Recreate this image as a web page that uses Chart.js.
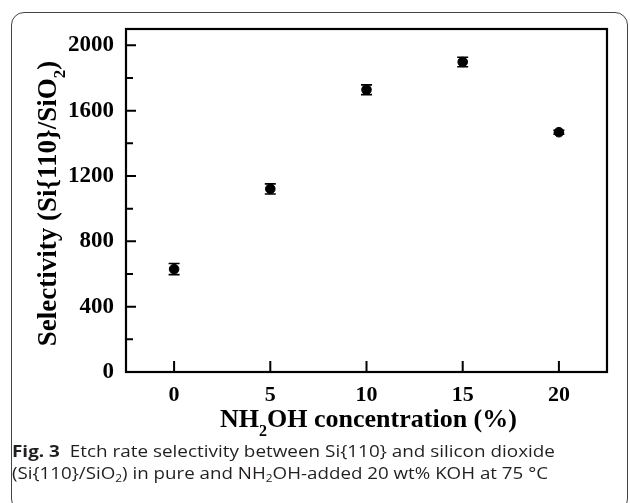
<!DOCTYPE html>
<html><head><meta charset="utf-8">
<script src="https://cdn.jsdelivr.net/npm/chart.js@4"></script>
<style>
html,body{margin:0;padding:0;background:#fff;}
#wrap{position:relative;width:630px;height:503px;overflow:hidden;background:#fff;}
#frame{position:absolute;left:11px;top:12px;width:617px;height:500px;border:1px solid #444;border-radius:13px;box-sizing:border-box;}
#c{position:absolute;left:0;top:0;}
.cap{position:absolute;left:12px;white-space:nowrap;font-family:"Open Sans",sans-serif;font-size:16.5px;color:#231f20;transform-origin:0 0;line-height:20px;}
.cap sub{font-size:10.5px;vertical-align:-3px;line-height:0;}
</style></head>
<body><div id="wrap">
<div id="frame"></div>
<canvas id="c" width="630" height="503"></canvas>
<div class="cap" id="cap1" style="top:441px;"><b>Fig. 3</b>&nbsp; Etch rate selectivity between Si{110} and silicon dioxide</div>
<div class="cap" id="cap2" style="top:463px;">(Si{110}/SiO<sub>2</sub>) in pure and NH<sub>2</sub>OH-added 20 wt% KOH at 75 °C</div>
</div>
<script>
const xValues = [0, 5, 10, 15, 20];
const selectivity = [630, 1121, 1728, 1898, 1468];
const errors = [34, 31, 30, 29, 12];
const xTickValues = [0, 5, 10, 15, 20];
const yTickValues = [0, 400, 800, 1200, 1600, 2000];
const yMinorTickValues = [200, 600, 1000, 1400, 1800];
const xTitleParts = [["NH", false], ["2", true], ["OH concentration (%)", false]];
const yTitleParts = [["Selectivity (Si{110}/SiO", false], ["2", true], [")", false]];

const SERIF = '"Liberation Serif","Times New Roman",serif';

function drawRich(ctx, parts, size, subSize, subDrop) {
  let w = 0;
  parts.forEach(([t, sub]) => { ctx.font = 'bold ' + (sub ? subSize : size) + 'px ' + SERIF; w += ctx.measureText(t).width; });
  let x = -w / 2;
  parts.forEach(([t, sub]) => {
    ctx.font = 'bold ' + (sub ? subSize : size) + 'px ' + SERIF;
    ctx.fillText(t, x, sub ? subDrop : 0);
    x += ctx.measureText(t).width;
  });
}

const framePlugin = {
  id: 'framePlugin',
  beforeDatasetsDraw(chart) {
    const ctx = chart.ctx, a = chart.chartArea;
    const xs = chart.scales.x, ys = chart.scales.y;
    ctx.save();
    ctx.strokeStyle = '#000';
    ctx.lineWidth = 1.6;
    xValues.forEach((xv, i) => {
      const px = xs.getPixelForValue(xv);
      const top = ys.getPixelForValue(selectivity[i] + errors[i]);
      const bot = ys.getPixelForValue(selectivity[i] - errors[i]);
      ctx.beginPath();
      ctx.moveTo(px, top); ctx.lineTo(px, bot);
      ctx.moveTo(px - 5.5, top); ctx.lineTo(px + 5.5, top);
      ctx.moveTo(px - 5.5, bot); ctx.lineTo(px + 5.5, bot);
      ctx.stroke();
    });
    ctx.lineWidth = 2;
    ctx.beginPath();
    xTickValues.forEach(v => { const p = xs.getPixelForValue(v); ctx.moveTo(p, a.bottom); ctx.lineTo(p, a.bottom - 11); });
    yTickValues.forEach(v => { const p = ys.getPixelForValue(v); ctx.moveTo(a.left, p); ctx.lineTo(a.left + 10, p); });
    yMinorTickValues.forEach(v => { const p = ys.getPixelForValue(v); ctx.moveTo(a.left, p); ctx.lineTo(a.left + 7, p); });
    ctx.stroke();
    ctx.lineWidth = 2.2;
    ctx.strokeRect(a.left, a.top, a.right - a.left, a.bottom - a.top);
    ctx.restore();
  },
  afterDraw(chart) {
    const ctx = chart.ctx, a = chart.chartArea;
    ctx.save();
    ctx.fillStyle = '#000';
    ctx.textBaseline = 'alphabetic';
    ctx.textAlign = 'left';
    ctx.save();
    ctx.translate((a.left + a.right) / 2 + 2, 427);
    drawRich(ctx, xTitleParts, 26, 16, 9);
    ctx.restore();
    ctx.save();
    ctx.translate(56, (a.top + a.bottom) / 2 + 3);
    ctx.rotate(-Math.PI / 2);
    drawRich(ctx, yTitleParts, 27, 17, 9);
    ctx.restore();
    ctx.restore();
  }
};

new Chart(document.getElementById('c'), {
  type: 'scatter',
  data: {
    datasets: [{
      data: xValues.map((x, i) => ({ x: x, y: selectivity[i] })),
      backgroundColor: '#000',
      borderColor: '#000',
      pointRadius: 4.8,
      pointHoverRadius: 4.8,
      pointStyle: 'circle'
    }]
  },
  plugins: [framePlugin],
  options: {
    responsive: false,
    animation: false,
    devicePixelRatio: 1,
    layout: { padding: { top: 29, right: 23, left: 0, bottom: 0 } },
    plugins: { legend: { display: false }, tooltip: { enabled: false } },
    scales: {
      x: {
        type: 'linear', min: -2.5, max: 22.5,
        afterBuildTicks: s => { s.ticks = xTickValues.map(v => ({ value: v })); },
        afterFit: s => { s.height = 131; },
        grid: { display: false, drawTicks: false },
        border: { display: false },
        ticks: { color: '#000', font: { family: SERIF, size: 22, weight: 'bold' }, padding: 10, maxRotation: 0, callback: v => String(v) }
      },
      y: {
        type: 'linear', min: 0, max: 2100,
        afterBuildTicks: s => { s.ticks = yTickValues.map(v => ({ value: v })); },
        afterFit: s => { s.width = 126; },
        grid: { display: false, drawTicks: false },
        border: { display: false },
        ticks: { color: '#000', font: { family: SERIF, size: 23, weight: 'bold' }, padding: 12, callback: v => String(v) }
      }
    }
  }
});

function fitCap(id, target) {
  const el = document.getElementById(id);
  const w = el.getBoundingClientRect().width;
  el.style.transform = 'scaleX(' + (target / w) + ')';
}
fitCap('cap1', 543);
fitCap('cap2', 536);
</script>
</body></html>
